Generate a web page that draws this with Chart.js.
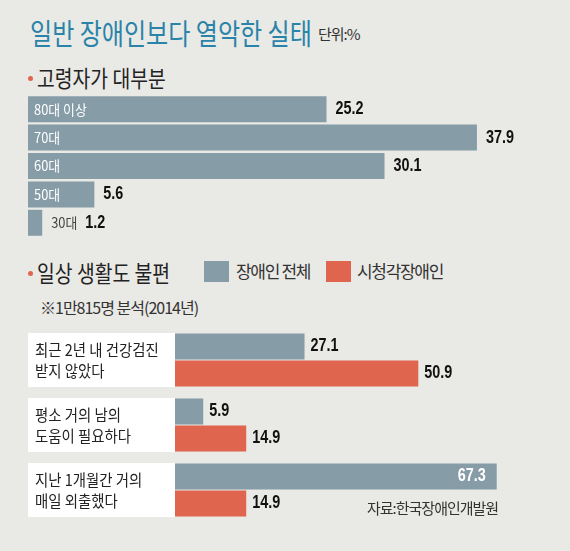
<!DOCTYPE html>
<html>
<head>
<meta charset="utf-8">
<script src="https://cdn.jsdelivr.net/npm/chart.js@4.4.1/dist/chart.umd.min.js"></script>
<style>
  body { margin: 0; width: 570px; height: 551px; overflow: hidden; background: #e9e9e5;
         font-family: "Noto Sans CJK KR", sans-serif; position: relative; }
  .abs { position: absolute; white-space: nowrap; transform-origin: 0 0; }
  #title { left: 30px; top: 11px; font-size: 29px; color: #2a83a8; transform: scaleX(0.83); }
  #unit { left: 318px; top: 23px; font-size: 15px; color: #333; letter-spacing: -1px; }
  .head { font-size: 23px; color: #222; transform: scaleX(0.84); }
  .dot { position: absolute; width: 5px; height: 5px; border-radius: 50%; background: #e0654f; }
  #sub { left: 40px; top: 295px; font-size: 16px; color: #333; letter-spacing: -1px; }
  .lg-box { position: absolute; width: 25px; height: 21px; }
  .lg-txt { position: absolute; font-size: 17px; color: #333; letter-spacing: -1.3px; white-space: nowrap; }
  #src { left: 367px; top: 497px; font-size: 15px; color: #333; letter-spacing: -1px; }
  canvas { position: absolute; left: 0; }
</style>
</head>
<body>
<div class="abs" id="title">일반 장애인보다 열악한 실태</div>
<div class="abs" id="unit">단위:%</div>

<div class="dot" style="left:28px;top:76px"></div>
<div class="abs head" style="left:37px;top:60px">고령자가 대부분</div>

<div class="dot" style="left:28px;top:271px"></div>
<div class="abs head" style="left:37px;top:255px">일상 생활도 불편</div>
<div id="legend"></div>
<div class="abs" id="sub">※1만815명 분석(2014년)</div>

<canvas id="ageChart" width="570" height="170" style="top:80px"></canvas>
<canvas id="lifeChart" width="570" height="231" style="top:320px"></canvas>

<div class="abs" id="src">자료:한국장애인개발원</div>

<script>
// 고령자가 대부분
const ageLabels = ['80대 이상', '70대', '60대', '50대', '30대'];
const ageValues = [25.2, 37.9, 30.1, 5.6, 1.2];

// 일상 생활도 불편
const itemLabels = [
    ['최근 2년 내 건강검진', '받지 않았다'],
    ['평소 거의 남의', '도움이 필요하다'],
    ['지난 1개월간 거의', '매일 외출했다']
];
const seriesNames = ['장애인 전체', '시청각장애인'];
const allValues = [27.1, 5.9, 67.3];
const sensoryValues = [50.9, 14.9, 14.9];

const GRAY = '#869ca7';
const RED = '#e0654f';
const NUM_FONT = 'bold 18px "Liberation Sans", sans-serif';
const NUM_SCALE = 0.8;

// legend
const legend = document.getElementById('legend');
[[GRAY, 204, 236], [RED, 326, 357]].forEach(function (l, i) {
    legend.innerHTML += '<div class="lg-box" style="left:' + l[1] + 'px;top:261px;background:' + l[0] + '"></div>' +
        '<div class="lg-txt" style="left:' + l[2] + 'px;top:258px">' + seriesNames[i] + '</div>';
});

// condensed text helper (numbers in the reference are narrow)
function drawNarrow(ctx, txt, x, y, sx) {
    ctx.save();
    ctx.translate(x, y);
    ctx.scale(sx, 1);
    ctx.fillText(txt, 0, 0);
    ctx.restore();
}

Chart.defaults.animation = false;
Chart.defaults.plugins.legend.display = false;
Chart.defaults.plugins.tooltip.enabled = false;

// labels on the age bars
const ageLabelPlugin = {
    id: 'ageLabels',
    afterDatasetsDraw(chart) {
        const ctx = chart.ctx;
        const meta = chart.getDatasetMeta(0);
        ctx.save();
        ctx.textBaseline = 'middle';
        meta.data.forEach(function (bar, i) {
            ctx.font = '14px "Noto Sans CJK KR"';
            const lw = ctx.measureText(ageLabels[i]).width * 0.92;
            let x = bar.x + 9;
            if (bar.x - bar.base > lw + 16) {
                ctx.fillStyle = '#ffffff';
                drawNarrow(ctx, ageLabels[i], bar.base + 6, bar.y, 0.92);
            } else {
                ctx.fillStyle = '#444';
                drawNarrow(ctx, ageLabels[i], bar.x + 9, bar.y, 0.92);
                x = bar.x + 9 + lw + 8;
            }
            ctx.font = NUM_FONT;
            ctx.fillStyle = '#111';
            drawNarrow(ctx, ageValues[i].toFixed(1), x, bar.y, NUM_SCALE);
        });
        ctx.restore();
    }
};

new Chart(document.getElementById('ageChart'), {
    type: 'bar',
    data: {
        labels: ageLabels,
        datasets: [{
            data: ageValues,
            backgroundColor: GRAY,
            barPercentage: 0.915,
            categoryPercentage: 1
        }]
    },
    options: {
        indexAxis: 'y',
        responsive: false,
        layout: { padding: { left: 28, right: 9, top: 15, bottom: 13 } },
        scales: {
            x: { display: false, min: 0, max: 45 },
            y: { display: false }
        }
    },
    plugins: [ageLabelPlugin]
});

// white label boxes and values for the second chart
const lifePlugin = {
    id: 'lifeLabels',
    beforeDatasetsDraw(chart) {
        const ctx = chart.ctx;
        const y = chart.scales.y;
        ctx.save();
        itemLabels.forEach(function (lines, i) {
            const cy = y.getPixelForValue(i);
            ctx.fillStyle = '#ffffff';
            ctx.fillRect(28, cy - 27, 147, 54);
            ctx.fillStyle = '#222';
            ctx.font = '16px "Noto Sans CJK KR"';
            ctx.textBaseline = 'middle';
            drawNarrow(ctx, lines[0], 35, cy - 10, 0.9);
            drawNarrow(ctx, lines[1], 35, cy + 11, 0.9);
        });
        ctx.restore();
    },
    afterDatasetsDraw(chart) {
        const ctx = chart.ctx;
        ctx.save();
        ctx.font = NUM_FONT;
        ctx.textBaseline = 'middle';
        chart.data.datasets.forEach(function (ds, d) {
            chart.getDatasetMeta(d).data.forEach(function (bar, i) {
                const txt = ds.data[i].toFixed(1);
                const w = ctx.measureText(txt).width * NUM_SCALE;
                if (ds.data[i] > 60) {
                    ctx.fillStyle = '#ffffff';
                    drawNarrow(ctx, txt, bar.x - 11 - w, bar.y, NUM_SCALE);
                } else {
                    ctx.fillStyle = '#111';
                    drawNarrow(ctx, txt, bar.x + 6, bar.y, NUM_SCALE);
                }
            });
        });
        ctx.restore();
    }
};

new Chart(document.getElementById('lifeChart'), {
    type: 'bar',
    data: {
        labels: itemLabels.map(l => l.join(' ')),
        datasets: [
            { label: seriesNames[0], data: allValues, backgroundColor: GRAY,
              barPercentage: 0.96, categoryPercentage: 0.83 },
            { label: seriesNames[1], data: sensoryValues, backgroundColor: RED,
              barPercentage: 0.96, categoryPercentage: 0.83 }
        ]
    },
    options: {
        indexAxis: 'y',
        responsive: false,
        layout: { padding: { left: 175, right: 12.6, top: 7.5, bottom: 28.5 } },
        scales: {
            x: { display: false, min: 0, max: 80 },
            y: { display: false }
        }
    },
    plugins: [lifePlugin]
});
</script>
</body>
</html>
